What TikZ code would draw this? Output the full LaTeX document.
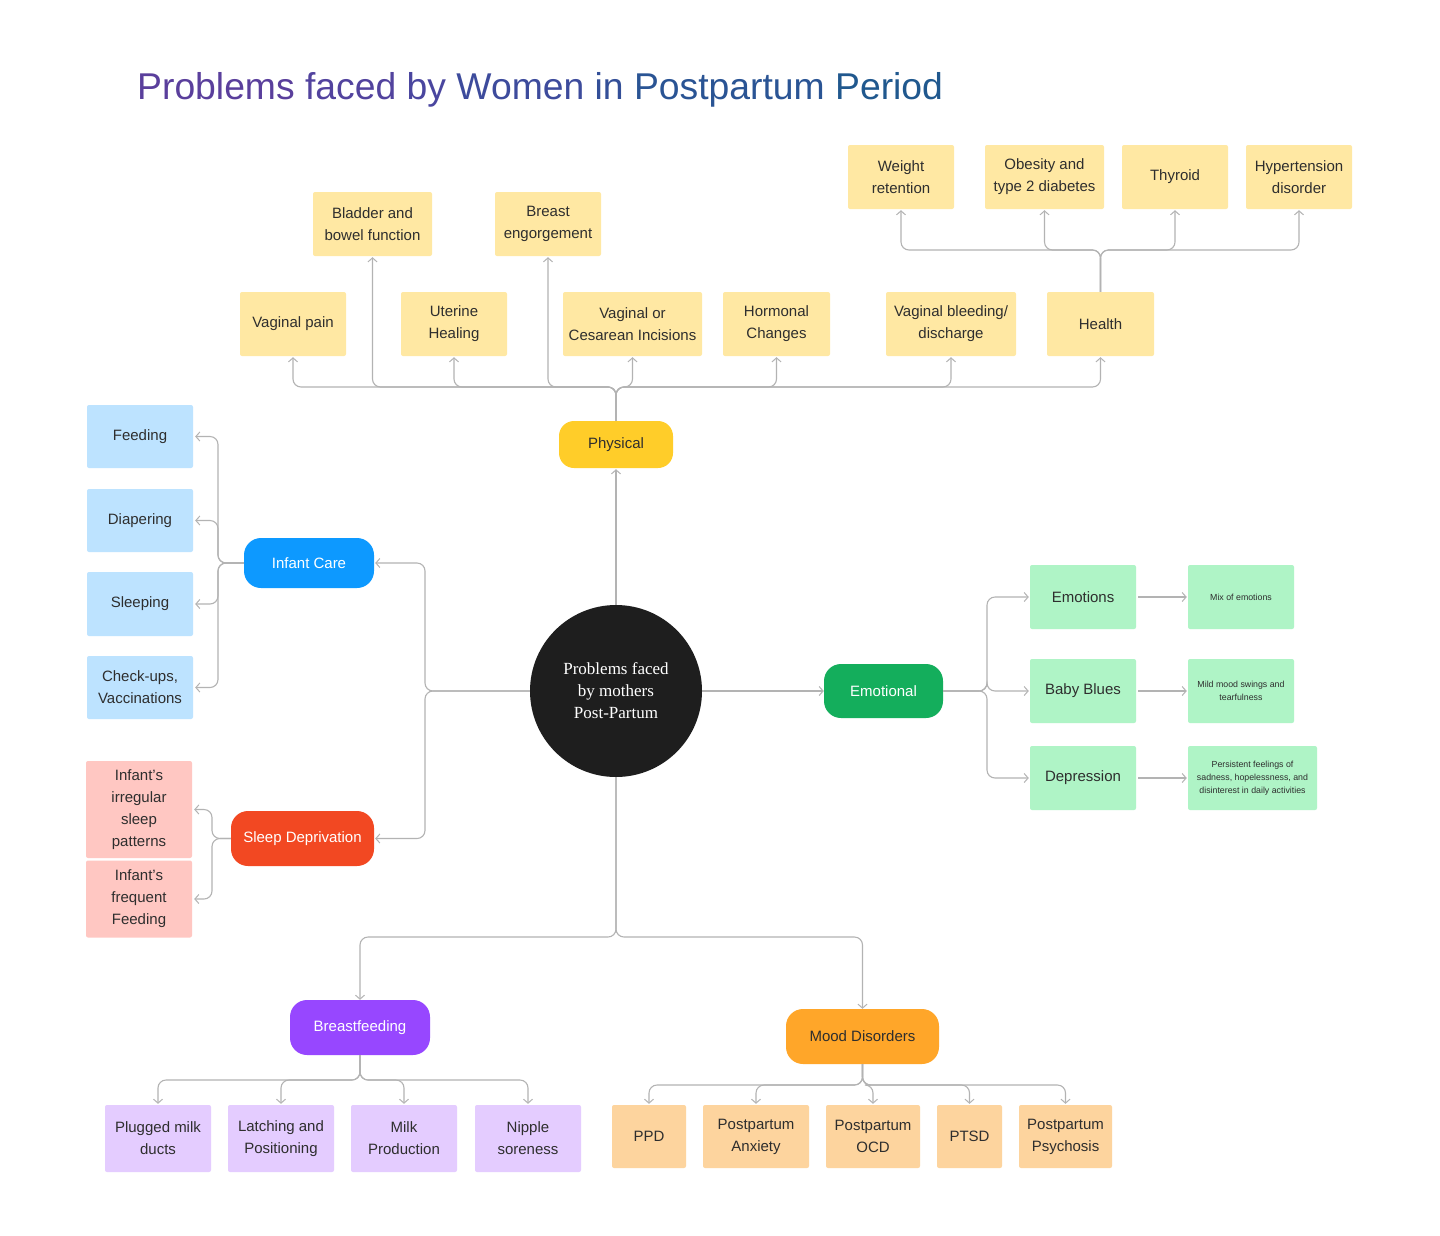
\documentclass[tikz,border=0pt]{standalone}
\usepackage{fontspec}
\setmainfont{Liberation Sans}
\newfontfamily\serifc{Liberation Serif}
\usetikzlibrary{arrows.meta}
\definecolor{cyel}{HTML}{FFE8A3}
\definecolor{cblu}{HTML}{BDE3FF}
\definecolor{cred}{HTML}{FFC7C2}
\definecolor{cgrn}{HTML}{AFF4C6}
\definecolor{cpur}{HTML}{E4CCFF}
\definecolor{corg}{HTML}{FDD49E}
\definecolor{mphys}{HTML}{FFCD29}
\definecolor{minf}{HTML}{0D99FF}
\definecolor{msleep}{HTML}{F24822}
\definecolor{memo}{HTML}{14AE5C}
\definecolor{mbreast}{HTML}{9747FF}
\definecolor{mmood}{HTML}{FFA629}
\definecolor{txt}{HTML}{2E2E2E}
\definecolor{lnc}{HTML}{B3B3B3}
\definecolor{ctr}{HTML}{1E1E1E}
\definecolor{tA}{HTML}{5A3F9C}
\definecolor{tB}{HTML}{52439E}
\definecolor{tC}{HTML}{4A469F}
\definecolor{tD}{HTML}{3D4B9C}
\definecolor{tE}{HTML}{334F98}
\definecolor{tF}{HTML}{2A5494}
\definecolor{tG}{HTML}{20588E}
\newcommand{\bfnt}{\fontsize{15}{22}\selectfont}
\newcommand{\sfnt}{\fontsize{8.8}{13}\selectfont}
\begin{document}
\begin{tikzpicture}[x=1pt,y=-1pt,
  box/.style={rectangle, rounded corners=2pt, minimum width=106pt, minimum height=64pt,
    align=center, font=\bfnt, text=txt, inner sep=0pt},
  ybox/.style={box, fill=cyel},
  bbox/.style={box, fill=cblu},
  rbox/.style={box, fill=cred},
  gbox/.style={box, fill=cgrn},
  pbox/.style={box, fill=cpur, minimum height=67pt},
  obox/.style={box, fill=corg, minimum height=63pt},
  gsmall/.style={box, fill=cgrn, font=\sfnt},
  mainnode/.style={rectangle, rounded corners=17pt, minimum height=50pt, font=\fontsize{15}{18}\selectfont, text=white, inner sep=0pt},
  conn/.style={draw=lnc, line width=1.1pt, rounded corners=8pt, -{Straight Barb[length=4pt,width=9pt,line width=1pt]}}
]
\useasboundingbox (0,0) rectangle (1440,1235);
\fill[white] (0,0) rectangle (1440,1235);

% Title
\node[anchor=base west, inner sep=0pt, font=\fontsize{37.3}{40}\selectfont] (title) at (137,99)
  {\textcolor{tA}{Problems} \textcolor{tB}{faced} \textcolor{tC}{by} \textcolor{tD}{Women} \textcolor{tE}{in} \textcolor{tF}{Postpartum} \textcolor{tG}{Period}};

% Center
\node[circle, fill=ctr, minimum size=172pt, inner sep=0pt, text=white, align=center,
  font=\serifc\fontsize{17}{22}\selectfont] (ctr) at (616,691) {Problems faced\\by mothers\\Post-Partum};

% Main nodes
\node[mainnode, fill=mphys, text=txt, minimum width=114pt, minimum height=47pt, rounded corners=15pt] (phys) at (616,444.5) {Physical};
\node[mainnode, fill=minf, minimum width=130pt] (ic) at (309,563) {Infant Care};
\node[mainnode, fill=msleep, minimum width=143pt, minimum height=55pt] (sd) at (302.5,838.5) {Sleep Deprivation};
\node[mainnode, fill=memo, minimum width=119pt, minimum height=54pt] (emo) at (883.5,691) {Emotional};
\node[mainnode, fill=mbreast, minimum width=140pt, minimum height=55pt] (bf) at (360,1027.5) {Breastfeeding};
\node[mainnode, fill=mmood, text=txt, minimum width=153pt, minimum height=55pt] (md) at (862.5,1036.5) {Mood Disorders};

% Physical children
\node[ybox, minimum width=119pt] (bb) at (372.5,224) {Bladder and\\bowel function};
\node[ybox] (be) at (548,224) {Breast\\engorgement};
\node[ybox] (vp) at (293,324) {Vaginal pain};
\node[ybox] (uh) at (454,324) {Uterine\\Healing};
\node[ybox, minimum width=139pt] (vc) at (632.5,324) {Vaginal or\\Cesarean Incisions};
\node[ybox, minimum width=107pt] (hc) at (776.5,324) {Hormonal\\Changes};
\node[ybox, minimum width=130pt] (vb) at (951,324) {Vaginal bleeding/\\discharge};
\node[ybox, minimum width=107pt] (he) at (1100.5,324) {Health};
\node[ybox] (wr) at (901,177) {Weight\\retention};
\node[ybox, minimum width=119pt] (ob) at (1044.5,177) {Obesity and\\type 2 diabetes};
\node[ybox] (th) at (1175,177) {Thyroid};
\node[ybox] (hy) at (1299,177) {Hypertension\\disorder};

% Infant care children
\node[bbox, minimum height=63pt] (feed) at (140,436.5) {Feeding};
\node[bbox, minimum height=63pt] (diap) at (140,520.5) {Diapering};
\node[bbox] (slp) at (140,604) {Sleeping};
\node[bbox, minimum height=63pt] (chk) at (140,687.5) {Check-ups,\\Vaccinations};

% Sleep deprivation children
\node[rbox, minimum height=97pt] (isp) at (139,809.5) {Infant’s\\irregular\\sleep\\patterns};
\node[rbox, minimum height=77pt] (iff) at (139,899) {Infant’s\\frequent\\Feeding};

% Emotional children
\node[gbox] (emos) at (1083,597) {Emotions};
\node[gbox] (bblu) at (1083,691) {Baby Blues};
\node[gbox] (depr) at (1083,778) {Depression};
\node[gsmall] (mix) at (1241,597) {Mix of emotions};
\node[gsmall] (mild) at (1241,691) {Mild mood swings and\\tearfulness};
\node[gsmall, minimum width=129pt] (pers) at (1252.5,778) {Persistent feelings of\\sadness, hopelessness, and\\disinterest in daily activities};

% Breastfeeding children
\node[pbox] (pmd) at (158,1138.5) {Plugged milk\\ducts};
\node[pbox] (lap) at (281,1138.5) {Latching and\\Positioning};
\node[pbox] (mp) at (404,1138.5) {Milk\\Production};
\node[pbox] (ns) at (528,1138.5) {Nipple\\soreness};

% Mood children
\node[obox, minimum width=74pt] (ppd) at (649,1136.5) {PPD};
\node[obox] (pa) at (756,1136.5) {Postpartum\\Anxiety};
\node[obox, minimum width=94pt] (pocd) at (873,1136.5) {Postpartum\\OCD};
\node[obox, minimum width=65pt] (ptsd) at (969.5,1136.5) {PTSD};
\node[obox, minimum width=93pt] (pps) at (1065.5,1136.5) {Postpartum\\Psychosis};

% Connectors: physical
\coordinate (pj) at (616,387);
\foreach \c in {vp,bb,uh,be,vc,hc,vb,he}
  \draw[conn] (phys.north) -- (pj) -| ([yshift=-1pt]\c.south);
\coordinate (hj) at (1100.5,250);
\foreach \c in {wr,ob,th,hy}
  \draw[conn] (he.north) -- (hj) -| ([yshift=-1pt]\c.south);
\draw[conn] (ctr.north) -- ([yshift=-1pt]phys.south);

% left
\coordinate (lj) at (425,691);
\draw[conn] (ctr.west) -- (lj) |- ([xshift=1pt]ic.east);
\draw[conn] (ctr.west) -- (lj) |- ([xshift=1pt]sd.east);
\coordinate (icj) at (218,563);
\foreach \c in {feed,diap,slp,chk}
  \draw[conn] (ic.west) -- (icj) |- ([xshift=2pt]\c.east);
\coordinate (sdj) at (212,838.5);
\foreach \c in {isp,iff}
  \draw[conn] (sd.west) -- (sdj) |- ([xshift=2pt]\c.east);

% right
\draw[conn] (ctr.east) -- (emo.west);
\coordinate (ej) at (987,691);
\foreach \c in {emos,bblu,depr}
  \draw[conn] (emo.east) -- (ej) |- ([xshift=-1pt]\c.west);
\draw[conn, shorten <=2pt] (emos.east) -- ([xshift=-1pt]mix.west);
\draw[conn, shorten <=2pt] (bblu.east) -- ([xshift=-1pt]mild.west);
\draw[conn, shorten <=2pt] (depr.east) -- ([xshift=-1pt]pers.west);

% bottom
\coordinate (bj) at (616,937);
\draw[conn] (ctr.south) -- (bj) -| (bf.north);
\draw[conn] (ctr.south) -- (bj) -| (md.north);
\coordinate (bfj) at (360,1080);
\foreach \c in {pmd,lap,mp,ns}
  \draw[conn] (bf.south) -- (bfj) -| ([yshift=1pt]\c.north);
\coordinate (mdj) at (862.5,1085);
\foreach \c in {ppd,pa,pocd,ptsd,pps}
  \draw[conn] (md.south) -- (mdj) -| ([yshift=1pt]\c.north);
\end{tikzpicture}
\end{document}
